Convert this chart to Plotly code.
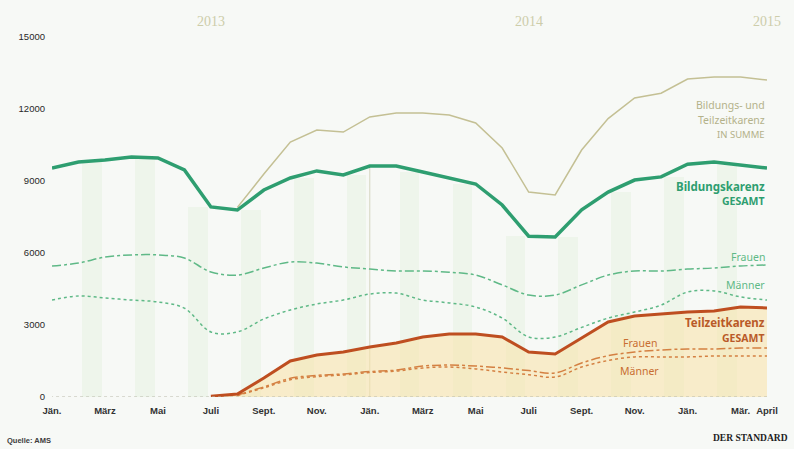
import plotly.graph_objects as go

# ---- data ----
months = list(range(28))  # Jän. 2013 ... April 2015
tick_pos = [0, 2, 4, 6, 8, 10, 12, 14, 16, 18, 20, 22, 24, 26, 27]
tick_text = ["Jän.", "März", "Mai", "Juli", "Sept.", "Nov.", "Jän.", "März", "Mai",
             "Juli", "Sept.", "Nov.", "Jän.", "Mär.", "April"]
year_pos = [6, 18, 27]
year_text = ["2013", "2014", "2015"]
y_ticks = [0, 3000, 6000, 9000, 12000, 15000]

bildung = [9540, 9790, 9875, 10000, 9960, 9460, 7920, 7790, 8625, 9125, 9420, 9250,
           9625, 9625, 9375, 9125, 8875, 8000, 6700, 6670, 7800, 8540, 9040, 9170,
           9700, 9790, 9670, 9540]
summe = [None] * 7 + [7900, 9290, 10625, 11125, 11040, 11670, 11830, 11830, 11750,
                      11420, 10375, 8540, 8420, 10290, 11600, 12460, 12660, 13250,
                      13330, 13330, 13210]
teilzeit = [None] * 6 + [30, 120, 790, 1500, 1750, 1875, 2080, 2250, 2500, 2625, 2625,
                         2500, 1875, 1790, 2460, 3125, 3375, 3460, 3540, 3580, 3750, 3710]
bk_frauen = [5460, 5580, 5830, 5920, 5920, 5790, 5210, 5080, 5375, 5625, 5580, 5420,
             5330, 5250, 5250, 5200, 5080, 4670, 4250, 4250, 4670, 5080, 5250, 5250,
             5330, 5375, 5460, 5500]
bk_maenner = [4040, 4210, 4125, 4040, 3960, 3700, 2710, 2710, 3250, 3625, 3875, 4040,
              4290, 4330, 4040, 3920, 3750, 3290, 2500, 2500, 2900, 3290, 3540, 3830,
              4375, 4420, 4170, 4040]
tz_frauen = [None] * 7 + [80, 420, 780, 900, 960, 1060, 1120, 1290, 1330, 1290, 1210,
                          1100, 1000, 1420, 1720, 1875, 1960, 2000, 2000, 2040, 2040]
tz_maenner = [None] * 7 + [60, 380, 720, 850, 920, 1020, 1080, 1210, 1250, 1170, 1040,
                           930, 830, 1250, 1520, 1670, 1670, 1670, 1710, 1710, 1710]

# ---- styles ----
GREEN = "rgb(46,158,112)"
GREEN_L = "rgb(95,185,135)"
KHAKI = "rgb(196,192,148)"
RUST = "rgb(190,78,32)"
ORANGE_L = "rgb(212,128,66)"
BG = "rgb(247,249,246)"
NARROW = "Liberation Sans Narrow, Liberation Sans, Arial, sans-serif"
LABEL = "Noto Sans, Open Sans, sans-serif"

fig = go.Figure()

# faint vertical background bands (every second month), up to the Bildungskarenz line
band_x = [m + 0.5 for m in months[1:-1:2]]
band_h = [min(bildung[int(b - 0.5)], bildung[int(b + 0.5)]) for b in band_x]
fig.add_trace(go.Bar(x=band_x, y=band_h, width=0.75,
                     marker=dict(color="rgba(205,232,195,0.2)", line_width=0),
                     hoverinfo="skip", showlegend=False))

# Teilzeitkarenz fill
fig.add_trace(go.Scatter(x=months, y=teilzeit, mode="lines", fill="tozeroy",
                         fillcolor="rgba(250,226,165,0.55)",
                         line=dict(color="rgba(0,0,0,0)", width=0),
                         hoverinfo="skip", showlegend=False))

# green sub-series
fig.add_trace(go.Scatter(x=months, y=bk_frauen, mode="lines",
                         line=dict(color=GREEN_L, width=1.5, dash="dashdot", shape="spline"),
                         showlegend=False))
fig.add_trace(go.Scatter(x=months, y=bk_maenner, mode="lines",
                         line=dict(color=GREEN_L, width=1.5, dash="dot", shape="spline"),
                         showlegend=False))
# orange sub-series
fig.add_trace(go.Scatter(x=months, y=tz_frauen, mode="lines",
                         line=dict(color=ORANGE_L, width=1.5, dash="dashdot", shape="spline"),
                         showlegend=False))
fig.add_trace(go.Scatter(x=months, y=tz_maenner, mode="lines",
                         line=dict(color=ORANGE_L, width=1.5, dash="dot", shape="spline"),
                         showlegend=False))
# sum line
fig.add_trace(go.Scatter(x=months, y=summe, mode="lines",
                         line=dict(color=KHAKI, width=1.5), showlegend=False))
# main lines
fig.add_trace(go.Scatter(x=months, y=bildung, mode="lines",
                         line=dict(color=GREEN, width=3.5), showlegend=False))
fig.add_trace(go.Scatter(x=months, y=teilzeit, mode="lines",
                         line=dict(color=RUST, width=3), showlegend=False))

# vertical year-change line at Jän. 2014
fig.add_shape(type="line", x0=12, x1=12, y0=0, y1=bildung[12], xref="x", yref="y",
              line=dict(color="rgba(200,200,170,0.7)", width=1), layer="below")
# baseline
fig.add_shape(type="line", x0=-0.3, x1=27, y0=0, y1=0, xref="x", yref="y",
              line=dict(color="rgb(185,185,170)", width=1, dash="dot"))

# year labels
for p, t in zip(year_pos, year_text):
    fig.add_annotation(x=p, y=1.042, xref="x", yref="paper", text=t, showarrow=False,
                       yanchor="middle",
                       font=dict(family="Liberation Serif, serif", size=14,
                                 color="rgb(205,205,170)"))

def lab(x, y, text, color, size=11, bold=False, anchor="right"):
    fig.add_annotation(x=x, y=y, xref="x", yref="y",
                       text=("<b>%s</b>" % text) if bold else text,
                       showarrow=False, xanchor=anchor, yanchor="middle",
                       font=dict(family=LABEL, size=size, color=color))

lab(27, 12150, "Bildungs- und", "rgb(180,178,138)", 10.5)
lab(27, 11530, "Teilzeitkarenz", "rgb(180,178,138)", 10.5)
lab(27, 10920, "IN SUMME", "rgb(180,178,138)", 9.5)
lab(27, 8780, "Bildungskarenz", GREEN, 11.5, True)
lab(27, 8150, "GESAMT", GREEN, 10.5, True)
lab(27, 5850, "Frauen", GREEN_L, 10.5)
lab(27, 4650, "Männer", GREEN_L, 10.5)
lab(27, 3100, "Teilzeitkarenz", "rgb(185,90,40)", 11.5, True)
lab(27, 2470, "GESAMT", "rgb(185,90,40)", 10.5, True)
lab(22.2, 2270, "Frauen", "rgb(200,110,50)", 10.5, anchor="center")
lab(22.2, 1090, "Männer", "rgb(200,110,50)", 10.5, anchor="center")

# footer
fig.add_annotation(x=-0.066, y=-0.122, xref="paper", yref="paper", xanchor="left",
                   yanchor="middle", showarrow=False, text="<b>Quelle: AMS</b>",
                   font=dict(family=NARROW, size=7.5, color="rgb(60,60,60)"))
fig.add_annotation(x=1.032, y=-0.114, xref="paper", yref="paper", xanchor="right",
                   yanchor="middle", showarrow=False, text="<b>DER STANDARD</b>",
                   font=dict(family="Liberation Serif, serif", size=9.5, color="rgb(30,30,30)"))

fig.update_layout(
    width=794, height=449,
    margin=dict(l=52, r=27, t=37, b=52),
    paper_bgcolor=BG, plot_bgcolor=BG,
    bargap=0,
    xaxis=dict(range=[0, 27], tickmode="array", tickvals=tick_pos,
               ticktext=["<b>%s</b>" % t for t in tick_text],
               showgrid=False, zeroline=False, showline=False, ticks="",
               ticklabelstandoff=6,
               tickfont=dict(family=NARROW, size=9.5, color="rgb(50,50,50)")),
    yaxis=dict(range=[0, 15000], tickmode="array", tickvals=y_ticks,
               ticktext=[str(v) for v in y_ticks],
               showgrid=False, zeroline=False, showline=False, ticks="",
               ticklabelstandoff=6,
               tickfont=dict(family=NARROW, size=9.5, color="rgb(40,40,40)")),
    showlegend=False,
)

fig.write_html("out.html")
